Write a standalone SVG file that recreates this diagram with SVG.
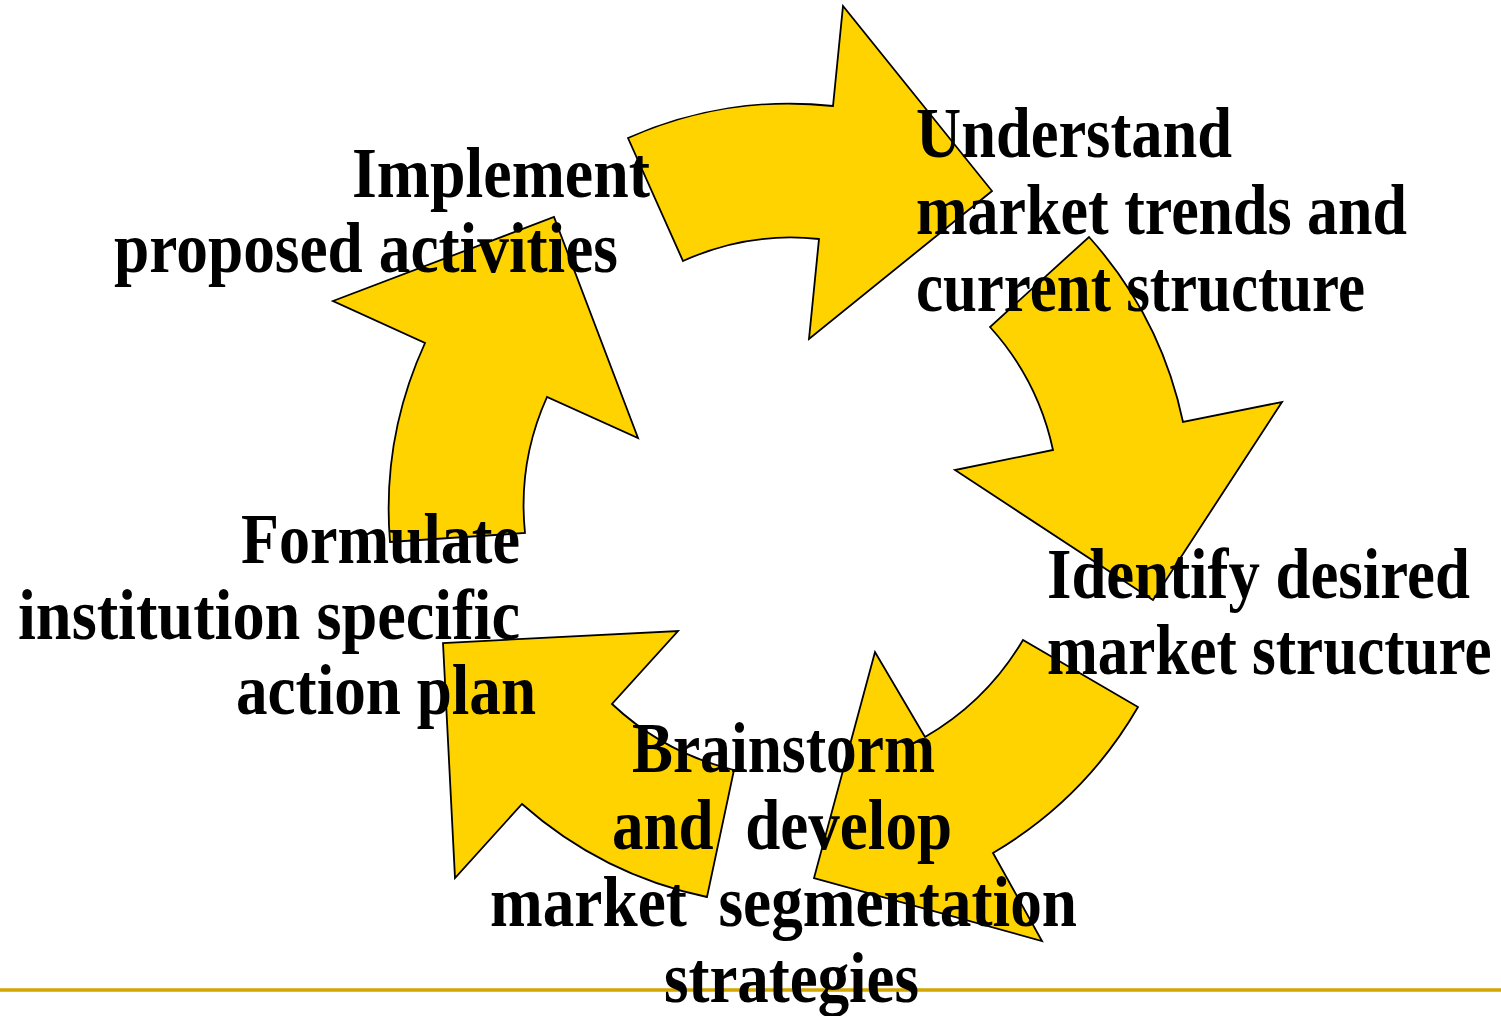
<svg xmlns="http://www.w3.org/2000/svg" width="1501" height="1016" viewBox="0 0 1501 1016">
  <style>
    .arrow { fill: #FFD300; stroke: #000000; stroke-width: 1.8; stroke-linejoin: miter; }
    .label { font-family: "Liberation Serif", "Times New Roman", serif; font-weight: bold; font-size: 72px; fill: #000000; white-space: pre; }
    .rule { stroke: #D4A600; stroke-width: 3.5; }
  </style>
  <rect width="1501" height="1016" fill="#FFFFFF"/>

  <!-- circular cycle of curved block arrows -->
  <g id="connectors">
    <path id="arrow-understand" class="arrow" d="M 628,138 A 396 396 0 0 1 833,106 L 843,6 L 992,191 L 809,339 L 819,239 A 262 262 0 0 0 683,261 Z"/>
    <path id="arrow-identify" class="arrow" d="M 1089,237 A 400 400 0 0 1 1183,422 L 1282,402 L 1153,600 L 955,470 L 1053,450 A 266 266 0 0 0 990,327 Z"/>
    <path id="arrow-brainstorm" class="arrow" d="M 1138,707 A 406 406 0 0 1 993,853 L 1042,941 L 814,878 L 875,652 L 925,737 A 272 272 0 0 0 1023,640 Z"/>
    <path id="arrow-formulate" class="arrow" d="M 707,897 A 405 405 0 0 1 522,804 L 455,878 L 443,643 L 678,631 L 612,704 A 273 273 0 0 0 734,770 Z"/>
    <path id="arrow-implement" class="arrow" d="M 390,542 A 400 400 0 0 1 425,343 L 333,301 L 554,217 L 638,438 L 547,397 A 265 265 0 0 0 525,533 Z"/>
  </g>

  <!-- footer rule -->
  <line class="rule" x1="0" y1="990" x2="1501" y2="990"/>

  <g id="node-understand">
    <text class="label" x="916" y="157" textLength="316" lengthAdjust="spacingAndGlyphs">Understand</text>
    <text class="label" x="916" y="234" textLength="491" lengthAdjust="spacingAndGlyphs">market trends and</text>
    <text class="label" x="916" y="311" textLength="449" lengthAdjust="spacingAndGlyphs">current structure</text>
  </g>

  <!-- narrow face: horizontal squeeze keeps the right-hand label inside the page -->
  <g id="node-identify" transform="translate(1047,0) scale(0.87,1)">
    <text class="label" x="0" y="598" textLength="486" lengthAdjust="spacingAndGlyphs">Identify desired</text>
    <text class="label" x="0" y="674" textLength="511" lengthAdjust="spacingAndGlyphs">market structure</text>
  </g>

  <g id="node-brainstorm">
    <text class="label" x="632" y="772" textLength="303" lengthAdjust="spacingAndGlyphs">Brainstorm</text>
    <text class="label" x="612" y="849" textLength="340" lengthAdjust="spacingAndGlyphs">and  develop</text>
    <text class="label" x="490" y="926" textLength="587" lengthAdjust="spacingAndGlyphs">market  segmentation</text>
    <text class="label" x="664" y="1002" textLength="255" lengthAdjust="spacingAndGlyphs">strategies</text>
  </g>

  <g id="node-formulate">
    <text class="label" x="241" y="563" textLength="279" lengthAdjust="spacingAndGlyphs">Formulate</text>
    <text class="label" x="18" y="639" textLength="502" lengthAdjust="spacingAndGlyphs">institution specific</text>
    <text class="label" x="236" y="714" textLength="300" lengthAdjust="spacingAndGlyphs">action plan</text>
  </g>

  <g id="node-implement">
    <text class="label" x="352" y="197" textLength="298" lengthAdjust="spacingAndGlyphs">Implement</text>
    <text class="label" x="114" y="272" textLength="504" lengthAdjust="spacingAndGlyphs">proposed activities</text>
  </g>
</svg>
